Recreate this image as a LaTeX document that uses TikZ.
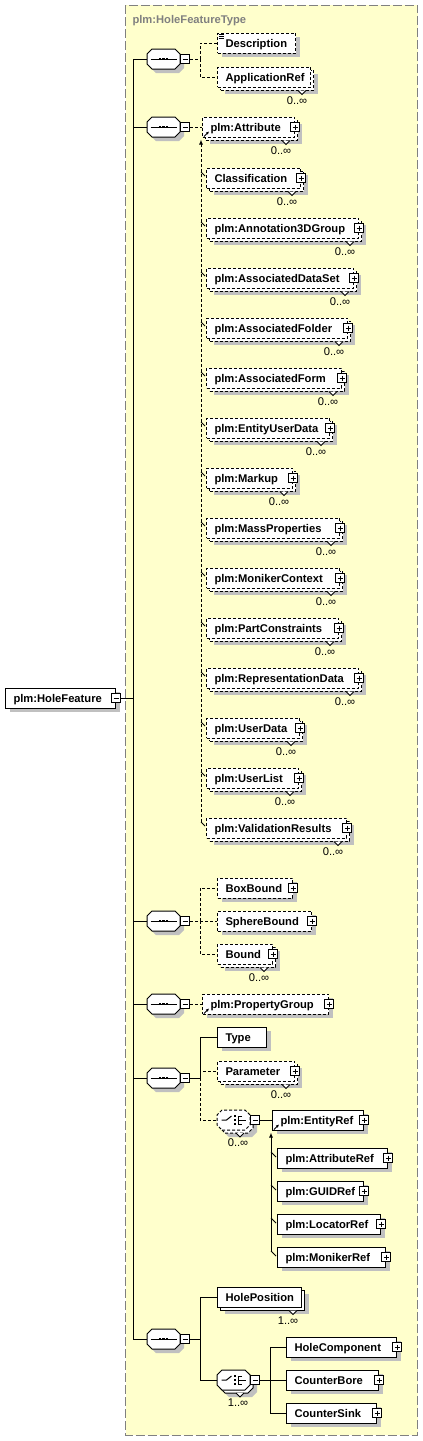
\documentclass[tikz,border=0pt]{standalone}
\usepackage{fontspec}
\setmainfont{Liberation Sans}
\usetikzlibrary{positioning, arrows.meta, shadows}
\definecolor{typefill}{RGB}{255,255,204}
\definecolor{typeline}{RGB}{128,128,128}
\definecolor{shadowgray}{RGB}{192,192,192}
% compositor outline: a box with cut corners
\makeatletter
\pgfdeclareshape{octbox}{
  \inheritsavedanchors[from=rectangle]
  \inheritanchorborder[from=rectangle]
  \inheritanchor[from=rectangle]{center}
  \inheritanchor[from=rectangle]{north}
  \inheritanchor[from=rectangle]{south}
  \inheritanchor[from=rectangle]{east}
  \inheritanchor[from=rectangle]{west}
  \inheritanchor[from=rectangle]{north east}
  \inheritanchor[from=rectangle]{north west}
  \inheritanchor[from=rectangle]{south east}
  \inheritanchor[from=rectangle]{south west}
  \backgroundpath{
    \southwest \pgf@xa=\pgf@x \pgf@ya=\pgf@y
    \northeast \pgf@xb=\pgf@x \pgf@yb=\pgf@y
    \pgfpathmoveto{\pgfpointadd{\pgfqpoint{\pgf@xa}{\pgf@ya}}{\pgfqpoint{5pt}{0pt}}}
    \pgfpathlineto{\pgfpointadd{\pgfqpoint{\pgf@xb}{\pgf@ya}}{\pgfqpoint{-5pt}{0pt}}}
    \pgfpathlineto{\pgfpointadd{\pgfqpoint{\pgf@xb}{\pgf@ya}}{\pgfqpoint{0pt}{5pt}}}
    \pgfpathlineto{\pgfpointadd{\pgfqpoint{\pgf@xb}{\pgf@yb}}{\pgfqpoint{0pt}{-5pt}}}
    \pgfpathlineto{\pgfpointadd{\pgfqpoint{\pgf@xb}{\pgf@yb}}{\pgfqpoint{-5pt}{0pt}}}
    \pgfpathlineto{\pgfpointadd{\pgfqpoint{\pgf@xa}{\pgf@yb}}{\pgfqpoint{5pt}{0pt}}}
    \pgfpathlineto{\pgfpointadd{\pgfqpoint{\pgf@xa}{\pgf@yb}}{\pgfqpoint{0pt}{-5pt}}}
    \pgfpathlineto{\pgfpointadd{\pgfqpoint{\pgf@xa}{\pgf@ya}}{\pgfqpoint{0pt}{5pt}}}
    \pgfpathclose
  }
}
\makeatother
\tikzset{
  elembox/.style  = {draw, fill=white, anchor=west, minimum height=20pt, inner xsep=8pt, inner ysep=0pt, text height=8.5pt, text depth=0pt, align=left, font={\fontsize{11.2}{13}\selectfont\bfseries\hyphenpenalty10000}},
  elem/.style     = {elembox, drop shadow={shadow xshift=4pt, shadow yshift=-4pt, fill=shadowgray, opacity=1}},
  optelem/.style  = {elem, dash pattern=on 3pt off 2pt},
  elems/.style    = {elembox, drop shadow={shadow xshift=7pt, shadow yshift=-7pt, fill=shadowgray, opacity=1}, copy shadow={shadow xshift=3pt, shadow yshift=-3pt, fill=white, draw, solid, line width=1pt, opacity=1}},
  optelems/.style = {elembox, dash pattern=on 3pt off 2pt, drop shadow={shadow xshift=7pt, shadow yshift=-7pt, fill=shadowgray, opacity=1}, copy shadow={shadow xshift=3pt, shadow yshift=-3pt, fill=white, draw, dash pattern=on 3pt off 2pt, line width=1pt, opacity=1}},
  compbox/.style  = {draw, fill=white, shape=octbox, minimum width=33pt, minimum height=20pt, inner sep=0pt, outer sep=0pt},
  seqsym/.style   = {path picture={
      \draw[solid] ([xshift=-13pt]path picture bounding box.center) -- ([xshift=13pt]path picture bounding box.center);
      \fill[black] ([shift={(-4.8pt,-1.2pt)}]path picture bounding box.center) rectangle ++(2.4pt,2.4pt);
      \fill[black] ([shift={(-1.2pt,-1.2pt)}]path picture bounding box.center) rectangle ++(2.4pt,2.4pt);
      \fill[black] ([shift={(2.4pt,-1.2pt)}]path picture bounding box.center) rectangle ++(2.4pt,2.4pt);}},
  choicesym/.style = {path picture={
      \draw[solid] ([xshift=-12pt]path picture bounding box.center) -- ++(5pt,0pt) -- ++(5pt,4pt);
      \fill[black] ([shift={(0.5pt,3pt)}]path picture bounding box.center) rectangle ++(2pt,2pt);
      \fill[black] ([shift={(0.5pt,-1pt)}]path picture bounding box.center) rectangle ++(2pt,2pt);
      \fill[black] ([shift={(0.5pt,-5pt)}]path picture bounding box.center) rectangle ++(2pt,2pt);
      \draw[solid] ([shift={(8.5pt,4pt)}]path picture bounding box.center) -- ++(-3.5pt,0pt) -- ++(0pt,-8pt) -- ++(3.5pt,0pt);
      \draw[solid] ([xshift=5pt]path picture bounding box.center) -- ++(7pt,0pt);}},
  seqbox/.style   = {compbox, seqsym, drop shadow={shadow xshift=4pt, shadow yshift=-4pt, fill=shadowgray, opacity=1}},
  choicebox/.style = {compbox, choicesym, drop shadow={shadow xshift=7pt, shadow yshift=-7pt, fill=shadowgray, opacity=1}, copy shadow={shadow xshift=3pt, shadow yshift=-3pt, fill=white, draw, solid, line width=1pt, opacity=1}},
  optchoicebox/.style = {compbox, choicesym, dash pattern=on 3pt off 2pt, drop shadow={shadow xshift=7pt, shadow yshift=-7pt, fill=shadowgray, opacity=1}, copy shadow={shadow xshift=3pt, shadow yshift=-3pt, fill=white, draw, dash pattern=on 3pt off 2pt, line width=1pt, opacity=1}},
  signbox/.style  = {draw, fill=white, solid, minimum size=9pt, inner sep=0pt},
  minusbox/.style = {signbox, path picture={\draw ([xshift=2pt]path picture bounding box.west) -- ([xshift=-2pt]path picture bounding box.east);}},
  plusbox/.style  = {signbox, path picture={\draw ([xshift=2pt]path picture bounding box.west) -- ([xshift=-2pt]path picture bounding box.east);
      \draw ([yshift=-2pt]path picture bounding box.north) -- ([yshift=2pt]path picture bounding box.south);}},
  optline/.style  = {dash pattern=on 3pt off 2pt},
  subst/.style    = {-{Latex[length=5pt, width=4pt]}},
  refmark/.style  = {-{Latex[length=3pt, width=3pt]}, line width=0.8pt},
  tick/.style     = {line width=0.8pt}
}

\begin{document}
\begin{tikzpicture}[x=1pt, y=-1pt, line width=1pt,
  mult/.style={font=\fontsize{11.2}{13}\selectfont, inner sep=0pt},
  notch/.style={draw, fill=white},
  typename/.style={font=\fontsize{11.2}{13}\selectfont\bfseries, text=typeline, inner sep=0pt, anchor=base west}
]
  \useasboundingbox (0,0) rectangle (423,1441);
  \draw[typeline, fill=typefill, dash pattern=on 9pt off 3pt] (125.5,5) rectangle (417.5,1435);
  \node[typename] (tname) at (132,23) {plm:HoleFeatureType};

  % root element
  \node[elem, text width=94pt] (root) at (5,698) {plm:HoleFeature};
  \node[minusbox] (root-m) at (root.east) {};

  % sequences
  \node[seqbox] (seq1) at (163.5,59) {};
  \node[seqbox] (seq2) at (163.5,127) {};
  \node[seqbox] (seq3) at (163.5,921) {};
  \node[seqbox] (seq4) at (163.5,1004) {};
  \node[seqbox] (seq5) at (163.5,1078) {};
  \node[seqbox] (seq6) at (163.5,1339) {};
  \node[minusbox, right=0pt of seq1] (seq1-m) {};
  \node[minusbox, right=0pt of seq2] (seq2-m) {};
  \node[minusbox, right=0pt of seq3] (seq3-m) {};
  \node[minusbox, right=0pt of seq4] (seq4-m) {};
  \node[minusbox, right=0pt of seq5] (seq5-m) {};
  \node[minusbox, right=0pt of seq6] (seq6-m) {};
  \draw (root-m.east) -- ++(12,0) |- (seq1.west);
  \draw (root-m.east) -- ++(12,0) |- (seq2.west);
  \draw (root-m.east) -- ++(12,0) |- (seq3.west);
  \draw (root-m.east) -- ++(12,0) |- (seq4.west);
  \draw (root-m.east) -- ++(12,0) |- (seq5.west);
  \draw (root-m.east) -- ++(12,0) |- (seq6.west);

  % first sequence
  \node[optelem, text width=62pt] (desc) at (217,43) {Description};
  \draw[tick] ([shift={(1.5,1.5)}]desc.north west) -- ++(5,0) ([shift={(1.5,3.5)}]desc.north west) -- ++(5,0) ([shift={(1.5,5.5)}]desc.north west) -- ++(5,0);
  \node[optelems, text width=77pt] (appref) at (217,77) {ApplicationRef};
  \draw[notch] ([shift={(-13,3)}]appref.south east) -- ++(4,4) -- ++(4,-4);
  \node[mult] (appref-n) at ([shift={(-14,13)}]appref.south east) {0..∞};
  \draw[optline] (seq1-m.east) -- ++(10,0) |- (desc.west);
  \draw[optline] (seq1-m.east) -- ++(10,0) |- (appref.west);

  % attribute substitution group
  \node[optelems, text width=76pt] (attr) at (202,127) {plm:Attribute};
  \node[optelems, text width=78pt] (classif) at (206,178) {Classification};
  \node[optelems, text width=136pt] (annot) at (206,228) {plm:Annotation3DGroup};
  \node[optelems, text width=131pt] (dataset) at (206,278) {plm:AssociatedDataSet};
  \node[optelems, text width=125pt] (folder) at (206,328) {plm:AssociatedFolder};
  \node[optelems, text width=119pt] (form) at (206,378) {plm:AssociatedForm};
  \node[optelems, text width=107pt] (euser) at (206,428) {plm:EntityUserData};
  \node[optelems, text width=70pt] (markup) at (206,478) {plm:Markup};
  \node[optelems, text width=117pt] (mass) at (206,528) {plm:MassProperties};
  \node[optelems, text width=117pt] (moniker) at (206,578) {plm:MonikerContext};
  \node[optelems, text width=116pt] (partc) at (206,628) {plm:PartConstraints};
  \node[optelems, text width=136pt] (repdata) at (206,678) {plm:RepresentationData};
  \node[optelems, text width=77pt] (udata) at (206,728) {plm:UserData};
  \node[optelems, text width=76pt] (ulist) at (206,778) {plm:UserList};
  \node[optelems, text width=124pt] (valres) at (206,828) {plm:ValidationResults};
  \node[plusbox] (attr-p) at (attr.east) {};
  \node[plusbox] (classif-p) at (classif.east) {};
  \node[plusbox] (annot-p) at (annot.east) {};
  \node[plusbox] (dataset-p) at (dataset.east) {};
  \node[plusbox] (folder-p) at (folder.east) {};
  \node[plusbox] (form-p) at (form.east) {};
  \node[plusbox] (euser-p) at (euser.east) {};
  \node[plusbox] (markup-p) at (markup.east) {};
  \node[plusbox] (mass-p) at (mass.east) {};
  \node[plusbox] (moniker-p) at (moniker.east) {};
  \node[plusbox] (partc-p) at (partc.east) {};
  \node[plusbox] (repdata-p) at (repdata.east) {};
  \node[plusbox] (udata-p) at (udata.east) {};
  \node[plusbox] (ulist-p) at (ulist.east) {};
  \node[plusbox] (valres-p) at (valres.east) {};
  \draw[notch] ([shift={(-13,3)}]attr.south east) -- ++(4,4) -- ++(4,-4);
  \draw[notch] ([shift={(-13,3)}]classif.south east) -- ++(4,4) -- ++(4,-4);
  \draw[notch] ([shift={(-13,3)}]annot.south east) -- ++(4,4) -- ++(4,-4);
  \draw[notch] ([shift={(-13,3)}]dataset.south east) -- ++(4,4) -- ++(4,-4);
  \draw[notch] ([shift={(-13,3)}]folder.south east) -- ++(4,4) -- ++(4,-4);
  \draw[notch] ([shift={(-13,3)}]form.south east) -- ++(4,4) -- ++(4,-4);
  \draw[notch] ([shift={(-13,3)}]euser.south east) -- ++(4,4) -- ++(4,-4);
  \draw[notch] ([shift={(-13,3)}]markup.south east) -- ++(4,4) -- ++(4,-4);
  \draw[notch] ([shift={(-13,3)}]mass.south east) -- ++(4,4) -- ++(4,-4);
  \draw[notch] ([shift={(-13,3)}]moniker.south east) -- ++(4,4) -- ++(4,-4);
  \draw[notch] ([shift={(-13,3)}]partc.south east) -- ++(4,4) -- ++(4,-4);
  \draw[notch] ([shift={(-13,3)}]repdata.south east) -- ++(4,4) -- ++(4,-4);
  \draw[notch] ([shift={(-13,3)}]udata.south east) -- ++(4,4) -- ++(4,-4);
  \draw[notch] ([shift={(-13,3)}]ulist.south east) -- ++(4,4) -- ++(4,-4);
  \draw[notch] ([shift={(-13,3)}]valres.south east) -- ++(4,4) -- ++(4,-4);
  \node[mult] (attr-n) at ([shift={(-14,13)}]attr.south east) {0..∞};
  \node[mult] (classif-n) at ([shift={(-14,13)}]classif.south east) {0..∞};
  \node[mult] (annot-n) at ([shift={(-14,13)}]annot.south east) {0..∞};
  \node[mult] (dataset-n) at ([shift={(-14,13)}]dataset.south east) {0..∞};
  \node[mult] (folder-n) at ([shift={(-14,13)}]folder.south east) {0..∞};
  \node[mult] (form-n) at ([shift={(-14,13)}]form.south east) {0..∞};
  \node[mult] (euser-n) at ([shift={(-14,13)}]euser.south east) {0..∞};
  \node[mult] (markup-n) at ([shift={(-14,13)}]markup.south east) {0..∞};
  \node[mult] (mass-n) at ([shift={(-14,13)}]mass.south east) {0..∞};
  \node[mult] (moniker-n) at ([shift={(-14,13)}]moniker.south east) {0..∞};
  \node[mult] (partc-n) at ([shift={(-14,13)}]partc.south east) {0..∞};
  \node[mult] (repdata-n) at ([shift={(-14,13)}]repdata.south east) {0..∞};
  \node[mult] (udata-n) at ([shift={(-14,13)}]udata.south east) {0..∞};
  \node[mult] (ulist-n) at ([shift={(-14,13)}]ulist.south east) {0..∞};
  \node[mult] (valres-n) at ([shift={(-14,13)}]valres.south east) {0..∞};
  \draw[tick] ([shift={(-5,-6)}]classif.west) -- ([shift={(-1,-2)}]classif.west);
  \draw[tick] ([shift={(-5,-6)}]annot.west) -- ([shift={(-1,-2)}]annot.west);
  \draw[tick] ([shift={(-5,-6)}]dataset.west) -- ([shift={(-1,-2)}]dataset.west);
  \draw[tick] ([shift={(-5,-6)}]folder.west) -- ([shift={(-1,-2)}]folder.west);
  \draw[tick] ([shift={(-5,-6)}]form.west) -- ([shift={(-1,-2)}]form.west);
  \draw[tick] ([shift={(-5,-6)}]euser.west) -- ([shift={(-1,-2)}]euser.west);
  \draw[tick] ([shift={(-5,-6)}]markup.west) -- ([shift={(-1,-2)}]markup.west);
  \draw[tick] ([shift={(-5,-6)}]mass.west) -- ([shift={(-1,-2)}]mass.west);
  \draw[tick] ([shift={(-5,-6)}]moniker.west) -- ([shift={(-1,-2)}]moniker.west);
  \draw[tick] ([shift={(-5,-6)}]partc.west) -- ([shift={(-1,-2)}]partc.west);
  \draw[tick] ([shift={(-5,-6)}]repdata.west) -- ([shift={(-1,-2)}]repdata.west);
  \draw[tick] ([shift={(-5,-6)}]udata.west) -- ([shift={(-1,-2)}]udata.west);
  \draw[tick] ([shift={(-5,-6)}]ulist.west) -- ([shift={(-1,-2)}]ulist.west);
  \draw[tick] ([shift={(-5,-6)}]valres.west) -- ([shift={(-1,-2)}]valres.west);
  \draw[refmark] ([shift={(2,-1)}]attr.south west) -- ++(5,-5);
  \draw[optline, subst] ([shift={(-5,-6)}]valres.west) -- ([shift={(-1,2)}]attr.south west);
  \draw[optline] (seq2-m.east) -- (attr.west);

  % bounds
  \node[optelem, text width=59pt] (boxb) at (217,888) {BoxBound};
  \node[optelem, text width=78pt] (sphereb) at (217,921) {SphereBound};
  \node[optelems, text width=39pt] (bound) at (217,954) {Bound};
  \node[plusbox] (boxb-p) at (boxb.east) {};
  \node[plusbox] (sphereb-p) at (sphereb.east) {};
  \node[plusbox] (bound-p) at (bound.east) {};
  \draw[notch] ([shift={(-13,3)}]bound.south east) -- ++(4,4) -- ++(4,-4);
  \node[mult] (bound-n) at ([shift={(-14,13)}]bound.south east) {0..∞};
  \draw[optline] (seq3-m.east) -- ++(10,0) |- (boxb.west);
  \draw[optline] (seq3-m.east) -- ++(10,0) |- (sphereb.west);
  \draw[optline] (seq3-m.east) -- ++(10,0) |- (bound.west);

  % property group
  \node[optelem, text width=110pt] (pgroup) at (202,1004) {plm:PropertyGroup};
  \node[plusbox] (pgroup-p) at (pgroup.east) {};
  \draw[refmark] ([shift={(2,-1)}]pgroup.south west) -- ++(5,-5);
  \draw[optline] (seq4-m.east) -- (pgroup.west);

  % type, parameters and entity refs
  \node[elem, text width=33pt] (type) at (217,1037) {Type};
  \node[optelems, text width=61pt] (param) at (217,1071) {Parameter};
  \node[plusbox] (param-p) at (param.east) {};
  \draw[notch] ([shift={(-13,3)}]param.south east) -- ++(4,4) -- ++(4,-4);
  \node[mult] (param-n) at ([shift={(-14,13)}]param.south east) {0..∞};
  \node[optchoicebox] (ch1) at (233.5,1120) {};
  \node[minusbox, right=0pt of ch1] (ch1-m) {};
  \draw[notch] ([shift={(-14,3)}]ch1.south east) -- ++(4,4) -- ++(4,-4);
  \node[mult] (ch1-n) at ([shift={(-12,13)}]ch1.south east) {0..∞};
  \draw (seq5-m.east) -- ++(10,0) |- (type.west);
  \draw[optline] ([xshift=10pt]seq5-m.east) |- (param.west);
  \draw[optline] ([xshift=10pt]seq5-m.east) |- (ch1.west);

  \node[elem, text width=75pt] (eref) at (272,1120) {plm:EntityRef};
  \node[elem, text width=94pt] (aref) at (277,1158) {plm:AttributeRef};
  \node[elem, text width=70pt] (guid) at (277,1191) {plm:GUIDRef};
  \node[elem, text width=87pt] (locref) at (277,1224) {plm:LocatorRef};
  \node[elem, text width=92pt] (mref) at (277,1257) {plm:MonikerRef};
  \node[plusbox] (eref-p) at (eref.east) {};
  \node[plusbox] (aref-p) at (aref.east) {};
  \node[plusbox] (guid-p) at (guid.east) {};
  \node[plusbox] (locref-p) at (locref.east) {};
  \node[plusbox] (mref-p) at (mref.east) {};
  \draw[tick] ([shift={(-6,-6)}]aref.west) -- ([shift={(-1,-1)}]aref.west);
  \draw[tick] ([shift={(-6,-6)}]guid.west) -- ([shift={(-1,-1)}]guid.west);
  \draw[tick] ([shift={(-6,-6)}]locref.west) -- ([shift={(-1,-1)}]locref.west);
  \draw[tick] ([shift={(-6,-6)}]mref.west) -- ([shift={(-1,-1)}]mref.west);
  \draw[refmark] ([shift={(2,-1)}]eref.south west) -- ++(5,-5);
  \draw[subst] ([shift={(-6,-6)}]mref.west) -- ([shift={(-1,2)}]eref.south west);
  \draw (ch1-m.east) -- (eref.west);

  % hole position and components
  \node[elems, text width=68pt] (hpos) at (217,1297) {HolePosition};
  \draw[notch] ([shift={(-13,3)}]hpos.south east) -- ++(4,4) -- ++(4,-4);
  \node[mult] (hpos-n) at ([shift={(-14,13)}]hpos.south east) {1..∞};
  \node[choicebox] (ch2) at (233.5,1380) {};
  \node[minusbox, right=0pt of ch2] (ch2-m) {};
  \draw[notch] ([shift={(-14,3)}]ch2.south east) -- ++(4,4) -- ++(4,-4);
  \node[mult] (ch2-n) at ([shift={(-12,13)}]ch2.south east) {1..∞};
  \draw (seq6-m.east) -- ++(10,0) |- (hpos.west);
  \draw (seq6-m.east) -- ++(10,0) |- (ch2.west);

  \node[elem, text width=94pt] (hcomp) at (286,1347) {HoleComponent};
  \node[elem, text width=76pt] (cbore) at (286,1380) {CounterBore};
  \node[elem, text width=74pt] (csink) at (286,1413) {CounterSink};
  \node[plusbox] (hcomp-p) at (hcomp.east) {};
  \node[plusbox] (cbore-p) at (cbore.east) {};
  \node[plusbox] (csink-p) at (csink.east) {};
  \draw (ch2-m.east) -- ++(10,0) |- (hcomp.west);
  \draw (ch2-m.east) -- ++(10,0) |- (cbore.west);
  \draw (ch2-m.east) -- ++(10,0) |- (csink.west);
\end{tikzpicture}
\end{document}
